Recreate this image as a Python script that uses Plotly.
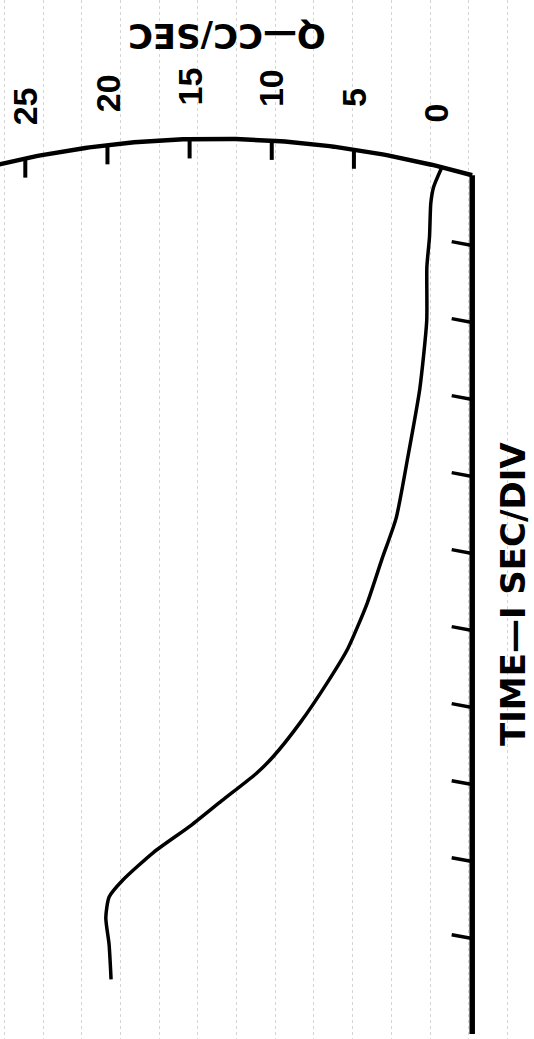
import numpy as np
import plotly.graph_objects as go

# ---- data ----
q_flow = [-0.36, 0.15, 0.32, 0.40, 0.56, 0.57, 0.99, 1.72, 2.43, 3.29, 4.20, 5.36,
          6.60, 8.28, 9.92, 10.96, 13.04, 14.91, 17.19, 19.06, 19.90, 20.10, 19.90, 19.78]
time_s = [-0.02, 0.24, 0.45, 0.89, 1.28, 1.98, 2.86, 3.75, 4.54, 5.07, 5.65, 6.23,
          6.67, 7.20, 7.64, 7.86, 8.21, 8.53, 8.88, 9.24, 9.46, 9.73, 10.08, 10.53]
q_ticks = [25, 20, 15, 10, 5, 0]
q_tick_labels = ["25", "20", "15", "10", "5", "0"]
time_ticks = [1, 2, 3, 4, 5, 6, 7, 8, 9, 10]
time_end = 11.24

# ---- chart-recorder geometry (styling) ----
Q_AXIS = -2.2          # position of the bold time axis
ARC_PEAK_Q, ARC_PEAK_T, ARC_C = 13.5, -0.385, 1.92e-3


def arc_t(q):
    return ARC_PEAK_T + ARC_C * (np.asarray(q) - ARC_PEAK_Q) ** 2


fig = go.Figure()

# recorder arc (top)
qa = np.linspace(27.3, Q_AXIS, 120)
fig.add_trace(go.Scatter(x=qa, y=arc_t(qa), mode="lines",
                         line=dict(color="black", width=4.5), hoverinfo="skip"))
# arc ticks
tx, ty = [], []
for q in q_ticks[:-1]:
    t0 = float(arc_t(q))
    tx += [q, q, None]
    ty += [t0, t0 + 0.25, None]
fig.add_trace(go.Scatter(x=tx, y=ty, mode="lines",
                         line=dict(color="black", width=4), hoverinfo="skip"))

# bold time axis + ticks
t_top = float(arc_t(Q_AXIS))
fig.add_trace(go.Scatter(x=[Q_AXIS, Q_AXIS], y=[t_top, time_end], mode="lines",
                         line=dict(color="black", width=5.5), hoverinfo="skip"))
kx, ky = [], []
for t in time_ticks:
    kx += [Q_AXIS + 1.25, Q_AXIS, None]
    ky += [t - 0.05, t, None]
fig.add_trace(go.Scatter(x=kx, y=ky, mode="lines",
                         line=dict(color="black", width=3.5), hoverinfo="skip"))

# flow curve
fig.add_trace(go.Scatter(x=q_flow, y=time_s, mode="lines",
                         line=dict(color="black", width=3.5, shape="spline", smoothing=0.6),
                         hoverinfo="skip"))

# Q tick labels along the arc
for q, lab in zip(q_ticks, q_tick_labels):
    fig.add_annotation(x=q, y=float(arc_t(q)) - 0.68, text="<b>%s</b>" % lab,
                       textangle=-90, showarrow=False, xanchor="center", yanchor="middle",
                       font=dict(family="Liberation Sans", size=34, color="black"))

# axis titles
fig.add_annotation(x=0.424, y=0.966, xref="paper", yref="paper", text="<b>Q—CC/SEC</b>",
                   textangle=180, showarrow=False, xanchor="center", yanchor="middle",
                   font=dict(family="DejaVu Sans", size=34, color="black"))
fig.add_annotation(x=0.962, y=0.428, xref="paper", yref="paper", text="<b>TIME—I SEC/DIV</b>",
                   textangle=-90, showarrow=False, xanchor="center", yanchor="middle",
                   font=dict(family="DejaVu Sans", size=34, color="black"))

fig.update_layout(
    width=534, height=1039, margin=dict(l=0, r=0, t=0, b=0),
    paper_bgcolor="white", plot_bgcolor="white", showlegend=False,
    xaxis=dict(range=[26.54, -5.96], showgrid=True, gridcolor="#d4d4d4", gridwidth=1,
               griddash="dot", tick0=0.365, dtick=2.355, showticklabels=False,
               ticks="", zeroline=False, showline=False, fixedrange=True),
    yaxis=dict(range=[11.305, -2.188], showgrid=False, showticklabels=False,
               ticks="", zeroline=False, showline=False, fixedrange=True),
)

fig.write_html("out.html")
